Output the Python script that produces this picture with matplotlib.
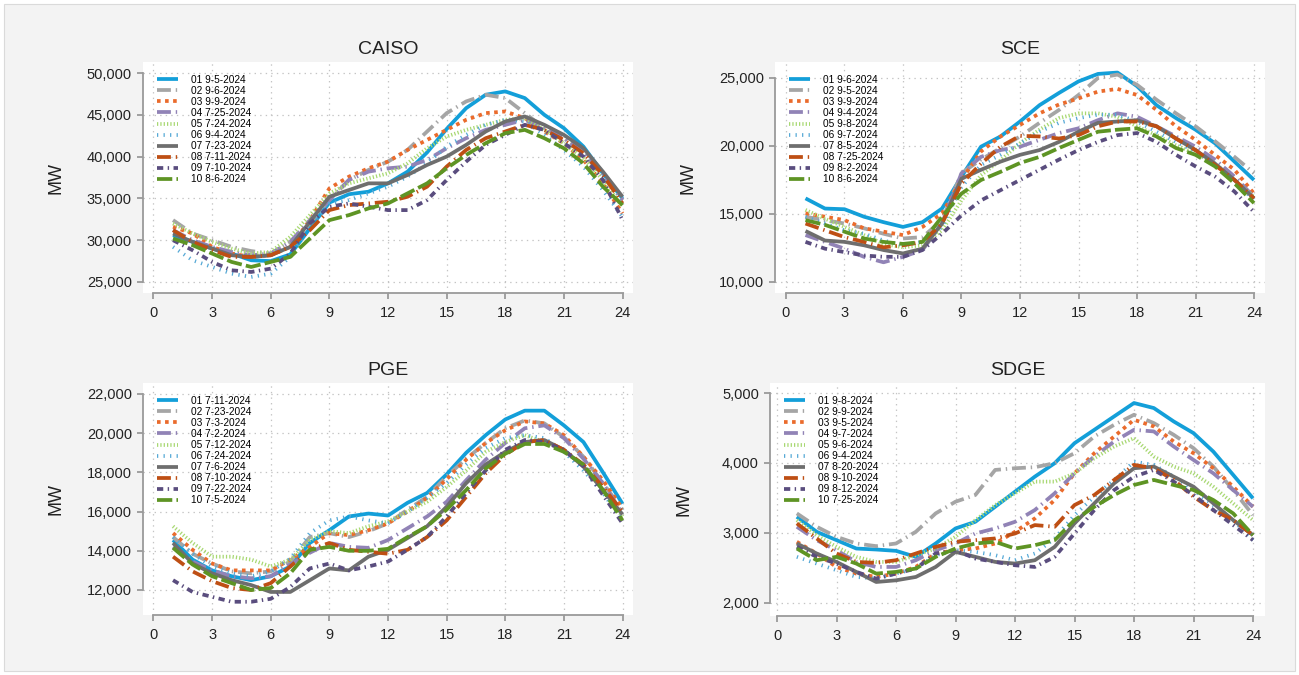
import matplotlib
matplotlib.use("Agg")
import matplotlib.pyplot as plt
from matplotlib.patches import Rectangle
from matplotlib.ticker import FuncFormatter

plt.rcParams['font.family'] = ['Liberation Sans', 'DejaVu Sans']
plt.rcParams['lines.scale_dashes'] = False

hours = list(range(1, 25))

# ---- CAISO
caiso_labels = ['01 9-5-2024', '02 9-6-2024', '03 9-9-2024', '04 7-25-2024', '05 7-24-2024',
                '06 9-4-2024', '07 7-23-2024', '08 7-11-2024', '09 7-10-2024', '10 8-6-2024']
caiso = [
    [30600, 29800, 29000, 28400, 27600, 27500, 28300, 31400, 34500, 35500, 35800, 36800,
     38200, 40500, 43300, 45800, 47400, 47800, 47000, 45000, 43400, 41200, 38000, 35000],
    [32400, 30800, 30000, 29200, 28700, 28400, 29800, 32000, 34800, 37200, 38400, 39400,
     40800, 43000, 45200, 46600, 47400, 47000, 45200, 43400, 42200, 40400, 37600, 34800],
    [31600, 30800, 29200, 28400, 28000, 28200, 29200, 32400, 36200, 37600, 38600, 39400,
     40800, 42000, 43200, 44400, 45200, 45400, 44600, 43000, 41600, 39600, 36800, 33200],
    [31200, 30000, 29200, 28600, 28200, 28400, 29800, 32400, 34800, 37200, 38200, 38600,
     38800, 39600, 41000, 42200, 43200, 43800, 44400, 43400, 42200, 40600, 38000, 34800],
    [32000, 30800, 29800, 29000, 28400, 28600, 30400, 33000, 35600, 36800, 37400, 38000,
     39200, 41000, 42400, 43200, 43800, 44400, 44600, 43200, 41600, 39800, 37200, 34000],
    [29200, 27600, 26800, 26000, 25600, 26000, 28000, 31600, 34400, 34800, 35600, 36400,
     37600, 39200, 41200, 42600, 43800, 44400, 44200, 42600, 40800, 38800, 36000, 32800],
    [30800, 29800, 29000, 28200, 28000, 28200, 29200, 32200, 35200, 36000, 36800, 36800,
     37800, 39000, 40000, 41400, 43000, 44200, 44800, 43800, 42600, 41000, 38200, 35200],
    [31200, 29800, 28800, 28000, 28000, 28200, 29200, 31200, 33600, 34200, 34400, 34600,
     35200, 36400, 38800, 40800, 42200, 43000, 43800, 43200, 42000, 40400, 37800, 34400],
    [30000, 28800, 27400, 26400, 26200, 26600, 28400, 32000, 34000, 34400, 34000, 33600,
     33600, 34800, 37200, 39400, 41400, 42600, 43800, 43200, 41600, 40000, 37200, 32400],
    [30200, 29400, 28400, 27400, 26800, 27400, 28000, 30200, 32400, 33000, 33800, 34400,
     35600, 36800, 38600, 40200, 41600, 42800, 43200, 42200, 41000, 39200, 36400, 34200],
]

# ---- SCE
sce_labels = ['01 9-6-2024', '02 9-5-2024', '03 9-9-2024', '04 9-4-2024', '05 9-8-2024',
              '06 9-7-2024', '07 8-5-2024', '08 7-25-2024', '09 8-2-2024', '10 8-6-2024']
sce = [
    [16150, 15400, 15350, 14800, 14400, 14050, 14400, 15400, 17750, 19950, 20700, 21800,
     23000, 23900, 24750, 25300, 25400, 24400, 23000, 22050, 21200, 20200, 18850, 17500],
    [14800, 14550, 14300, 13950, 13550, 13200, 13300, 14550, 18000, 19000, 19850, 20700,
     21700, 22650, 23750, 25000, 25250, 24500, 23400, 22400, 21450, 20350, 19200, 18000],
    [15050, 14800, 14550, 13950, 13700, 13450, 14050, 15050, 17500, 19600, 20700, 21550,
     22400, 23050, 23500, 24000, 24200, 23750, 22650, 21450, 20450, 19350, 18250, 16500],
    [13450, 12950, 12450, 11850, 11450, 11850, 12350, 14300, 18000, 19200, 19700, 19950,
     20450, 20950, 21300, 21900, 22400, 22150, 21450, 20700, 19950, 19000, 17750, 16250],
    [15300, 14650, 14050, 13450, 12800, 12550, 12700, 13800, 16000, 17850, 18950, 20200,
     21200, 22050, 22400, 22400, 22150, 21450, 20800, 20050, 19450, 18700, 17500, 16250],
    [14800, 14300, 13800, 13550, 13050, 12700, 12950, 14050, 17000, 18600, 19350, 20200,
     21050, 21700, 22050, 22300, 22300, 21800, 21050, 20300, 19600, 18700, 17500, 16000],
    [13750, 13050, 12950, 12700, 12350, 12100, 12450, 14300, 17600, 18250, 18850, 19350,
     19700, 20300, 21050, 21700, 21800, 21900, 21450, 20550, 19700, 18700, 17500, 16150],
    [14300, 13800, 13300, 12950, 12550, 12700, 12950, 14300, 17250, 18700, 19950, 20750,
     20700, 20550, 20800, 21450, 21800, 21800, 21450, 20550, 19700, 18600, 17500, 16150],
    [12950, 12450, 12200, 11950, 11850, 11850, 12350, 13550, 14900, 16000, 16750, 17500,
     18250, 19000, 19700, 20300, 20800, 20950, 20300, 19350, 18500, 17750, 16650, 15150],
    [14550, 14200, 13700, 13200, 12950, 12800, 12950, 14800, 16500, 17500, 18100, 18750,
     19200, 19850, 20450, 21050, 21200, 21300, 20700, 19850, 19350, 18500, 17250, 15800],
]

# ---- PGE
pge_labels = ['01 7-11-2024', '02 7-23-2024', '03 7-3-2024', '04 7-2-2024', '05 7-12-2024',
              '06 7-24-2024', '07 7-6-2024', '08 7-10-2024', '09 7-22-2024', '10 7-5-2024']
pge = [
    [14550, 13550, 13000, 12700, 12500, 12700, 13200, 14400, 15050, 15750, 15900, 15800,
     16450, 16950, 17900, 19000, 19900, 20700, 21150, 21150, 20400, 19550, 18000, 16400],
    [14700, 13850, 13350, 12950, 12850, 12950, 13450, 14700, 14900, 14700, 15000, 15400,
     16100, 16750, 17800, 18700, 19500, 20250, 20650, 20500, 19800, 18800, 17450, 16100],
    [14900, 14050, 13350, 13000, 13000, 13000, 13550, 14200, 14900, 14800, 15050, 15400,
     16000, 16700, 17650, 18650, 19500, 20150, 20600, 20500, 19900, 18800, 17600, 16150],
    [14200, 13450, 13000, 12700, 12600, 12700, 13300, 13900, 14400, 14200, 14150, 14550,
     15150, 15750, 16500, 17600, 18650, 19500, 20250, 20400, 19750, 18700, 17450, 15900],
    [15250, 14400, 13700, 13700, 13550, 13200, 13550, 14550, 15000, 14900, 15250, 15500,
     16000, 16500, 17250, 18100, 19050, 19550, 19900, 19550, 19150, 18300, 17100, 15750],
    [14700, 13850, 13200, 12850, 12700, 12950, 13600, 14900, 15550, 15750, 15550, 15400,
     16000, 16700, 17450, 18400, 19250, 19750, 19900, 19750, 19050, 18100, 16950, 15550],
    [14400, 13350, 12850, 12500, 12250, 11900, 11900, 12500, 13100, 13000, 13700, 14050,
     14650, 15250, 16250, 17450, 18400, 19050, 19550, 19650, 19150, 18300, 17100, 15850],
    [13700, 12950, 12450, 12100, 12000, 12350, 13200, 14050, 14400, 14050, 13950, 13850,
     14050, 14700, 15550, 16750, 17950, 18900, 19550, 19650, 19150, 18400, 17250, 16000],
    [12500, 11900, 11650, 11400, 11400, 11550, 12150, 13100, 13350, 13000, 13200, 13450,
     14050, 14700, 15750, 16950, 18100, 19150, 19650, 19550, 19150, 18300, 16850, 15400],
    [14150, 13300, 12700, 12350, 12000, 12100, 12850, 14050, 14200, 14000, 14000, 14100,
     14700, 15250, 16100, 17100, 18200, 18950, 19450, 19450, 19050, 18400, 17100, 15550],
]

# ---- SDGE
sdge_labels = ['01 9-8-2024', '02 9-9-2024', '03 9-5-2024', '04 9-7-2024', '05 9-6-2024',
               '06 9-4-2024', '07 8-20-2024', '08 9-10-2024', '09 8-12-2024', '10 7-25-2024']
sdge = [
    [3232, 3017, 2898, 2778, 2764, 2745, 2659, 2850, 3065, 3160, 3375, 3590,
     3805, 3997, 4283, 4474, 4666, 4857, 4785, 4594, 4427, 4163, 3830, 3495],
    [3280, 3089, 2945, 2850, 2812, 2850, 3017, 3280, 3447, 3543, 3901, 3925,
     3940, 3997, 4140, 4379, 4546, 4689, 4570, 4403, 4212, 3949, 3614, 3256],
    [2874, 2707, 2515, 2420, 2372, 2420, 2515, 2707, 2754, 2778, 2850, 3017,
     3208, 3471, 3853, 4140, 4379, 4618, 4522, 4307, 4140, 3925, 3662, 3375],
    [3089, 2898, 2754, 2587, 2515, 2515, 2611, 2754, 2850, 2993, 3065, 3160,
     3328, 3567, 3853, 4092, 4307, 4474, 4451, 4236, 4044, 3853, 3614, 3375],
    [3184, 2969, 2802, 2659, 2587, 2587, 2683, 2778, 2945, 3184, 3399, 3567,
     3734, 3734, 3853, 4068, 4236, 4355, 4092, 3949, 3853, 3662, 3423, 3184],
    [2659, 2563, 2468, 2372, 2348, 2420, 2492, 2683, 2754, 2730, 2683, 2611,
     2707, 2922, 3256, 3519, 3758, 4020, 3973, 3805, 3614, 3399, 3184, 2898],
    [2850, 2707, 2587, 2444, 2300, 2324, 2372, 2515, 2730, 2659, 2587, 2563,
     2611, 2802, 3137, 3423, 3710, 3925, 3949, 3805, 3662, 3423, 3184, 2969],
    [3137, 2922, 2707, 2587, 2573, 2611, 2707, 2802, 2874, 2898, 2922, 2993,
     3113, 3089, 3399, 3543, 3758, 3973, 3925, 3758, 3519, 3328, 3184, 2969],
    [2802, 2659, 2563, 2444, 2348, 2420, 2492, 2707, 2754, 2635, 2587, 2539,
     2515, 2659, 2993, 3328, 3614, 3805, 3901, 3734, 3543, 3328, 3113, 2898],
    [2778, 2611, 2659, 2563, 2420, 2444, 2492, 2659, 2778, 2850, 2874, 2778,
     2826, 2898, 3184, 3375, 3543, 3686, 3758, 3686, 3614, 3471, 3280, 2969],
]

colors = ['#139FD9', '#A5A5A5', '#EA6B2C', '#9183B6', '#A8D872',
          '#56A9D6', '#6E6E6E', '#BE4F14', '#5A4D7E', '#5E9424']
dash_styles = ['-', (0, (10, 3.5, 1, 3.5)), (0, (2.6, 3.2)), (0, (10, 3.5, 1, 3.5)),
               (0, (0.9, 1.5)), (0, (0.9, 3.8)), '-', (0, (10, 3.5, 1, 3.5)),
               (0, (4.5, 3.2, 1, 3.2)), (0, (11, 3))]

W, H = 1299, 675
fig = plt.figure(figsize=(W / 100, H / 100), dpi=100, facecolor='white')
fig.patches.append(Rectangle((4 / W, 4 / H), (W - 8) / W, (H - 8) / H, transform=fig.transFigure,
                             facecolor='#f3f3f3', edgecolor='#dadada', lw=0.8, zorder=-10))

panels = [
    # title, data, labels, pixel box (x0, y0, x1, y1), xlim, ylim, yticks
    ('CAISO', caiso, caiso_labels, (143, 62, 633, 293), (-0.537, 24.537), (23684, 51316),
     range(25000, 50001, 5000)),
    ('SCE', sce, sce_labels, (775, 62, 1265, 293), (-0.564, 24.564), (9191, 26176),
     range(10000, 25001, 5000)),
    ('PGE', pge, pge_labels, (143, 383, 633, 615), (-0.537, 24.537), (10724, 22561),
     range(12000, 22001, 2000)),
    ('SDGE', sdge, sdge_labels, (770, 383, 1265, 616), (-0.353, 24.605), (1814, 5143),
     range(2000, 5001, 1000)),
]

spine_col = '#9a9a9a'
for title, data, labels, box, xl, yl, yt in panels:
    x0, y0, x1, y1 = box
    ax = fig.add_axes([x0 / W, 1 - y1 / H, (x1 - x0) / W, (y1 - y0) / H])
    ax.set_facecolor('white')
    for series, lab, c, ls in zip(data, labels, colors, dash_styles):
        ax.plot(hours, series, color=c, linestyle=ls, lw=2.7, label=lab,
                solid_capstyle='butt', dash_capstyle='butt')
    ax.set_xlim(*xl)
    ax.set_ylim(*yl)
    ax.set_xticks(range(0, 25, 3))
    ax.set_yticks(list(yt))
    ax.yaxis.set_major_formatter(FuncFormatter(lambda v, p: f'{int(v):,}'))
    ax.grid(True, color='#c4c4c4', linestyle=(0, (1, 3)), lw=0.9)
    ax.set_axisbelow(True)
    for s in ['top', 'right']:
        ax.spines[s].set_visible(False)
    ax.spines['left'].set_bounds(min(yt), max(yt))
    ax.spines['bottom'].set_bounds(0, 24)
    for s in ['left', 'bottom']:
        ax.spines[s].set_color(spine_col)
        ax.spines[s].set_linewidth(1.3)
    ax.tick_params(axis='both', colors=spine_col, length=4.5, width=1.3, labelsize=10.5,
                   labelcolor='#222222')
    ax.tick_params(axis='x', pad=5)
    ax.tick_params(axis='y', pad=3.5)
    ax.set_title(title, fontsize=14, color='#222222', pad=6)
    ax.set_ylabel('MW', fontsize=13, color='#222222')
    ax.yaxis.set_label_coords(-78 / (x1 - x0), 0.5)
    ax.legend(loc='upper left', bbox_to_anchor=(14 / (x1 - x0), 1 - 13 / (y1 - y0)),
              frameon=False, fontsize=7.3, handlelength=2.1, handletextpad=1.3,
              labelspacing=0.1, borderpad=0, borderaxespad=0)

fig.savefig('out.png', dpi=100, facecolor=fig.get_facecolor())
